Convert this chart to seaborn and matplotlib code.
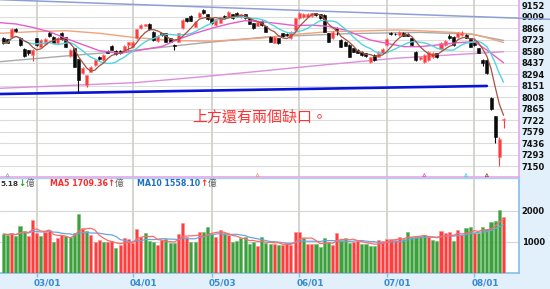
import numpy as np
import pandas as pd
import matplotlib
matplotlib.use("Agg")
import matplotlib.pyplot as plt
import matplotlib.transforms as mtransforms
import seaborn as sns

# ---------------- data ----------------
open_ = [8741, 8729, 8754, 8853, 8741, 8605, 8590, 8534, 8741, 8638,
         8671, 8812, 8762, 8679, 8804, 8754, 8522, 8617, 8480, 8314,
         8155, 8327, 8410, 8513, 8472, 8584, 8646, 8588, 8580, 8588,
         8655, 8638, 8741, 8866, 8900, 8920, 8824, 8712, 8804, 8804,
         8741, 8660, 8700, 8866, 8990, 9019, 8886, 9011, 9094, 9044,
         8990, 8907, 8936, 9019, 9011, 9044, 9060, 9002, 9044, 8990,
         8928, 8900, 8961, 8895, 8762, 8687, 8741, 8804, 8800, 8741,
         8845, 8990, 9002, 9011, 9019, 9052, 9044, 9031, 8804, 8741,
         8866, 8721, 8700, 8658, 8617, 8596, 8576, 8555, 8452, 8534,
         8513, 8555, 8658, 8804, 8800, 8783, 8804, 8800, 8741, 8576,
         8480, 8451, 8472, 8513, 8555, 8605, 8658, 8770, 8762, 8754,
         8783, 8783, 8741, 8712, 8617, 8472, 8472, 8000, 7775, 7260,
         7720]
high_ = [8755, 8735, 8870, 8872, 8760, 8615, 8600, 8605, 8750, 8730,
         8740, 8830, 8770, 8760, 8815, 8760, 8605, 8625, 8490, 8380,
         8290, 8400, 8480, 8520, 8545, 8595, 8655, 8595, 8590, 8655,
         8700, 8710, 8860, 8920, 8925, 8930, 8830, 8780, 8812, 8812,
         8750, 8665, 8810, 8980, 9000, 9030, 8955, 9070, 9105, 9050,
         9000, 8985, 9010, 9030, 9080, 9050, 9070, 9050, 9050, 8995,
         8935, 8950, 8970, 8900, 8770, 8765, 8750, 8810, 8810, 8830,
         9000, 9070, 9055, 9055, 9060, 9060, 9050, 9040, 8810, 8830,
         8880, 8730, 8710, 8665, 8625, 8605, 8585, 8565, 8515, 8545,
         8585, 8615, 8740, 8815, 8810, 8835, 8815, 8810, 8750, 8585,
         8515, 8545, 8585, 8570, 8565, 8695, 8720, 8790, 8770, 8820,
         8830, 8790, 8750, 8720, 8625, 8480, 8480, 8010, 7780, 7510,
         7750]
low_ = [8675, 8680, 8745, 8825, 8650, 8510, 8540, 8465, 8650, 8630,
        8665, 8760, 8680, 8670, 8720, 8630, 8515, 8380, 8078, 8300,
        8140, 8320, 8400, 8470, 8465, 8555, 8590, 8540, 8545, 8580,
        8596, 8630, 8735, 8860, 8890, 8845, 8710, 8700, 8775, 8690,
        8690, 8600, 8690, 8860, 8945, 8955, 8880, 9000, 9045, 8970,
        8920, 8900, 8930, 9000, 9005, 8985, 9010, 8995, 8980, 8915,
        8860, 8890, 8900, 8815, 8690, 8680, 8670, 8760, 8775, 8735,
        8840, 8985, 8995, 9005, 9010, 9025, 8985, 8815, 8690, 8735,
        8780, 8630, 8640, 8505, 8570, 8555, 8525, 8515, 8440, 8465,
        8505, 8545, 8650, 8780, 8780, 8775, 8770, 8765, 8650, 8465,
        8470, 8440, 8465, 8500, 8500, 8600, 8650, 8735, 8650, 8745,
        8775, 8740, 8630, 8650, 8555, 8400, 8300, 7855, 7436, 7150,
        7625]
close_ = [8687, 8687, 8853, 8836, 8658, 8522, 8555, 8596, 8658, 8721,
          8729, 8770, 8687, 8750, 8729, 8638, 8596, 8389, 8223, 8368,
          8285, 8389, 8472, 8480, 8534, 8563, 8596, 8547, 8555, 8646,
          8690, 8700, 8853, 8907, 8915, 8853, 8721, 8770, 8783, 8700,
          8700, 8650, 8804, 8969, 8955, 8961, 8949, 9060, 9052, 8978,
          8928, 8978, 9002, 9005, 9073, 8990, 9019, 9040, 8990, 8920,
          8866, 8940, 8907, 8824, 8700, 8754, 8679, 8775, 8785, 8824,
          8990, 9060, 9044, 9044, 9052, 9031, 8990, 8824, 8700, 8824,
          8845, 8638, 8646, 8513, 8576, 8563, 8534, 8522, 8505, 8472,
          8576, 8605, 8729, 8790, 8790, 8824, 8775, 8770, 8658, 8472,
          8505, 8534, 8576, 8563, 8505, 8687, 8712, 8741, 8658, 8812,
          8812, 8750, 8638, 8658, 8563, 8430, 8306, 7865, 7520, 7490,
          7740]
volume = [1247, 1215, 1280, 1172, 1516, 1355, 1172, 1709, 1280, 1193,
          1322, 1387, 1000, 1107, 1215, 1172, 1140, 1280, 1892, 1430,
          1355, 1215, 978, 1064, 978, 978, 1032, 785, 892, 1107,
          1086, 957, 1408, 1140, 1280, 1032, 1000, 892, 1064, 1086,
          957, 957, 1247, 1602, 1140, 1000, 1000, 1322, 1322, 1462,
          1247, 1140, 1387, 1280, 1215, 978, 1032, 1107, 1140, 924,
          1000, 870, 1140, 957, 924, 924, 892, 892, 957, 892,
          1322, 1322, 1107, 924, 914, 924, 817, 1129, 1000, 892,
          1280, 1064, 1107, 957, 1000, 1032, 924, 924, 849, 870,
          1064, 1032, 1086, 1086, 1064, 1140, 1086, 1322, 1140, 1140,
          1193, 1215, 1140, 1064, 1032, 1355, 1280, 1322, 1032, 1387,
          1215, 1430, 1462, 1280, 1280, 1462, 1408, 1645, 1677, 2032,
          1785]
vol_dir = list("GGRGGGRRRG" "RRGRRGGGGR" "GRRRGRRGRR" "RRRRGGGRRG"
               "GGRRRGGRGG" "GRRGRGGGGG" "GRGGGRGRRR" "RRGRRGGGGR"
               "RGGGRRGGGG" "RRRRRRGGGG" "GGRGGRRRGR" "RGGRGGGGGG" "R")

month_idx = [8, 31, 50, 71, 92, 113]
month_lbl = ["03/01", "04/01", "05/03", "06/01", "07/01", "08/01"]
price_ticks = [7150, 7293, 7436, 7579, 7722, 7865, 8008, 8151,
               8294, 8437, 8580, 8723, 8866, 9009, 9152]
vol_ticks = [1000, 2000]

# longer moving averages at knots (day index, value)
ma20_idx = [-0.8, 3, 7, 11, 15, 18, 23, 28, 32, 38, 42, 46, 50, 54, 58, 62,
            66, 70, 74, 78, 82, 85, 88, 92, 96, 100, 104, 109, 113, 116, 120]
ma20_val = [8936, 8920, 8878, 8824, 8741, 8683, 8588, 8555, 8588, 8640, 8729,
            8804, 8866, 8920, 8961, 8948, 8925, 8900, 8905, 8890, 8845, 8783,
            8721, 8679, 8638, 8638, 8658, 8687, 8700, 8596, 8438]
ma60_idx = [-0.8, 7, 15, 23, 31, 40, 50, 62, 70, 78, 86, 94, 100, 108, 113, 117, 120]
ma60_val = [8804, 8824, 8836, 8804, 8754, 8715, 8705, 8745, 8790, 8824, 8833,
            8845, 8836, 8815, 8790, 8735, 8690]
ma120_idx = [-0.8, 15, 31, 47, 63, 83, 100, 112, 120]
ma120_val = [8451, 8522, 8590, 8680, 8758, 8800, 8815, 8795, 8715]
ma240_idx = [-0.8, 31.6, 47, 63, 78, 94, 107, 120]
ma240_val = [8120, 8190, 8260, 8340, 8416, 8493, 8534, 8575]
trend_top_idx = [-0.8, 131.1]
trend_top_val = [9222, 8978]
trend_sup_idx = [-0.8, 116]
trend_sup_val = [8049, 8149]

vol_text = "5.18"
vma5_text = "MA5 1709.36"
vma10_text = "MA10 1558.10"
note = "上方還有兩個缺口。"

# ---------------- figure ----------------
sns.set_style("white")
plt.rcParams["font.family"] = ["DejaVu Sans", "Noto Sans CJK TC"]

W, H = 550, 289
fig = plt.figure(figsize=(W / 100, H / 100), dpi=100)
fig.patch.set_facecolor("#e1f0fb")

X0, DX = 3.36, 4.168
xl = (-X0 / DX, (519 - X0) / DX)

ax = fig.add_axes([0, 1 - 176.5 / H, 519 / W, 176.5 / H])
axv = fig.add_axes([0, 1 - 272.7 / H, 519 / W, (272.7 - 178) / H])
for a in (ax, axv):
    a.set_facecolor("white")

o = np.array(open_, float); c = np.array(close_, float)
h = np.array(high_, float); l = np.array(low_, float)
idx = np.arange(len(c))
up = c > o

# grid
for t in price_ticks:
    ax.axhline(t, color="#dcdcdc", lw=0.8, zorder=0)
for t in vol_ticks:
    axv.axhline(t, color="#d6d6d6", lw=0.8, zorder=0)
for m in month_idx:
    ax.axvline(m, color="#d2d2cc", lw=1.3, zorder=0)
    axv.axvline(m, color="#d2d2cc", lw=1.3, zorder=0)

# candles
ccol = np.where(up, "#ff3b3b", "#0a0a0a")
ecol = np.where(up, "#ff8080", "#0a0a0a")
ax.vlines(idx, l, h, colors=ccol, lw=0.8, zorder=4)
ax.bar(idx, np.maximum(np.abs(c - o), 10), bottom=np.minimum(o, c), width=0.72,
       color=ccol, edgecolor=ecol, linewidth=0.4, zorder=5)

# moving averages
s = pd.Series(c)
ma5 = s.rolling(5, min_periods=1).mean()
ma10 = s.rolling(10, min_periods=1).mean()
sns.lineplot(x=ma240_idx, y=ma240_val, ax=ax, color="#dc8fdc", lw=1.0, zorder=3)
sns.lineplot(x=ma120_idx, y=ma120_val, ax=ax, color="#a9a9a9", lw=1.0, zorder=3)
sns.lineplot(x=ma60_idx, y=ma60_val, ax=ax, color="#f2a27a", lw=1.0, zorder=3)
sns.lineplot(x=ma20_idx, y=ma20_val, ax=ax, color="#e65ec6", lw=1.0, zorder=6)
sns.lineplot(x=idx, y=ma10, ax=ax, color="#52d4df", lw=1.0, zorder=6)
sns.lineplot(x=idx, y=ma5, ax=ax, color="#a5523e", lw=0.9, zorder=7)
ax.plot(trend_sup_idx, trend_sup_val, color="#0a14d8", lw=1.9, zorder=3)
ax.plot(trend_top_idx, trend_top_val, color="#8e9fd6", lw=1.1, zorder=3, clip_on=False)

# MA deduction markers
n = len(c)
ded_idx = [n - p for p in (120, 60, 20, 10, 5)]
ded_col = ["#a9a9a9", "#f2a27a", "#e65ec6", "#52d4df", "#a5523e"]
ax.scatter(ded_idx, [7040] * 5, marker="^", s=5, facecolors="none",
           edgecolors=ded_col, linewidths=0.6, zorder=7, clip_on=False)

ax.set_xlim(xl)
ax.set_ylim(7023, 9218)
ax.set_xticks([])
ax.yaxis.tick_right()
ax.set_yticks(price_ticks)
ax.set_yticklabels([str(t) for t in price_ticks], fontsize=6, fontweight="bold")
ax.tick_params(axis="y", length=0, pad=2, labelcolor="#111111")
ax.set_xlabel(""); ax.set_ylabel("")
for sp in ("left", "top"):
    ax.spines[sp].set_visible(False)
for sp in ("bottom", "right"):
    ax.spines[sp].set_color("#e9a6e6"); ax.spines[sp].set_linewidth(1.2)

# volume
vcol = ["#ff3d3d" if d == "R" else "#3f9f3f" for d in vol_dir]
vedge = ["#ff8a8a" if d == "R" else "#6cbf6c" for d in vol_dir]
axv.bar(idx, volume, width=0.74, color=vcol, edgecolor=vedge, linewidth=0.4, zorder=3)
vs = pd.Series(volume, dtype=float)
sns.lineplot(x=idx, y=vs.rolling(10, min_periods=1).mean(), ax=axv,
             color="#6aa6dc", lw=0.9, zorder=4)
sns.lineplot(x=idx, y=vs.rolling(5, min_periods=1).mean(), ax=axv,
             color="#ff6b6b", lw=0.9, zorder=4)
axv.set_xlim(xl)
axv.set_ylim(0, 3055)
axv.set_xlabel(""); axv.set_ylabel("")
axv.yaxis.tick_right()
axv.set_yticks(vol_ticks)
axv.set_yticklabels([str(t) for t in vol_ticks], fontsize=6, fontweight="bold")
axv.tick_params(axis="y", length=0, pad=2, labelcolor="#111111")
axv.set_xticks(month_idx)
axv.set_xticklabels([])
axv.xaxis.set_ticks_position("bottom")
axv.tick_params(axis="x", length=3, width=1, color="#86bde6", direction="out")
axv.spines["left"].set_visible(False)
axv.spines["top"].set_color("#a9d3f1"); axv.spines["top"].set_linewidth(1.0)
for sp in ("right", "bottom"):
    axv.spines[sp].set_color("#86bde6"); axv.spines[sp].set_linewidth(1.2)

off = mtransforms.ScaledTranslation(-3 / 100, 0, fig.dpi_scale_trans)
tr = mtransforms.blended_transform_factory(axv.transData, axv.transAxes) + off
for m, lab in zip(month_idx, month_lbl):
    axv.text(m, -10.3 / 94.7, lab, transform=tr, ha="left", va="center",
             fontsize=6.4, fontweight="bold", color="#3a8bd2", clip_on=False)

# texts
def ftxt(px, py, s_, **kw):
    fig.text(px / W, 1 - py / H, s_, va="center", **kw)

cjk = ["Noto Sans CJK TC", "DejaVu Sans"]
ftxt(0.5, 183.5, vol_text, ha="left", fontsize=5.2, fontweight="bold", color="#333333")
ftxt(22, 183.5, "↓", ha="center", fontsize=6.2, fontweight="bold", color="#2e9e2e")
ftxt(25.5, 183.5, "億", ha="left", fontsize=6.3, color="#666666", family=cjk)
ftxt(50, 183.5, vma5_text, ha="left", fontsize=5.7, fontweight="bold", color="#ff2a2a")
ftxt(110.5, 183.5, "↑", ha="center", fontsize=6.2, fontweight="bold", color="#ff2a2a")
ftxt(115, 183.5, "億", ha="left", fontsize=6.3, color="#666666", family=cjk)
ftxt(137, 183.5, vma10_text, ha="left", fontsize=5.7, fontweight="bold", color="#1f6fbf")
ftxt(203.5, 183.5, "↑", ha="center", fontsize=6.2, fontweight="bold", color="#ff2a2a")
ftxt(208, 183.5, "億", ha="left", fontsize=6.3, color="#666666", family=cjk)

ftxt(192, 117.5, note, ha="left", fontsize=10.8, color="#ff3333", family=cjk)

fig.savefig("out.png", dpi=100, facecolor=fig.get_facecolor())
